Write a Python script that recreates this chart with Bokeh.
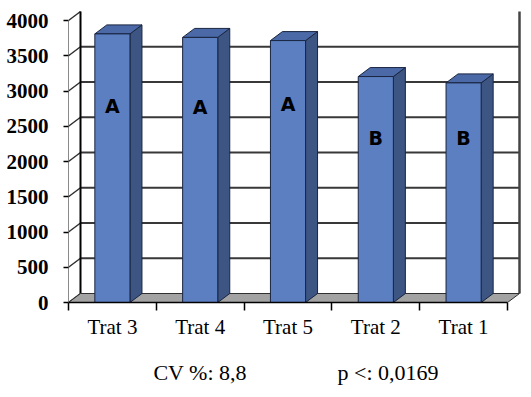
from bokeh.plotting import figure
from bokeh.models import FixedTicker, Range1d, LinearAxis
from bokeh.core.properties import value
from bokeh.embed import file_html
from bokeh.resources import INLINE

# ---- data ----
categories = ["Trat 3", "Trat 4", "Trat 5", "Trat 2", "Trat 1"]
yields = [3810, 3760, 3715, 3205, 3115]
groups = ["A", "A", "A", "B", "B"]
y_ticks = [0, 500, 1000, 1500, 2000, 2500, 3000, 3500, 4000]
note_cv = "CV %: 8,8"
note_p = "p <: 0,0169"

# ---- geometry / style constants ----
PX_Y = 4000 / 282.0          # value units per pixel
PX_X = 1 / 87.8              # category units per pixel
DX = 12 * PX_X               # depth offset (x)
DY = 9 * PX_Y                # depth offset (y)
HALF = 0.2                   # half bar width
n = len(categories)
centers = [i + 0.5 for i in range(n)]
label_y = [2790, 2780, 2820, 2330, 2330]

p = figure(width=528, height=395, output_backend="svg", toolbar_location=None,
           x_range=Range1d(0, 454 * PX_X), y_range=Range1d(0, 294 * PX_Y),
           min_border_left=68, min_border_right=6, min_border_top=8,
           min_border_bottom=93)
p.outline_line_color = None
p.xgrid.visible = False
p.ygrid.visible = False
p.background_fill_color = "white"
p.border_fill_color = "white"

# back wall gridlines
top = y_ticks[-1]
for v in y_ticks[1:-1]:
    p.line([DX, n + DX], [v + DY, v + DY], line_color="#383838", line_width=2)
# side-wall slants
for v in y_ticks:
    p.line([0, DX], [v, v + DY], line_color="#303030", line_width=1.5)
# left back corner & right wall edge
p.line([DX, DX], [DY, top + DY], line_color="black", line_width=2)
p.line([n + DX, n + DX], [DY, top + DY], line_color="#444444", line_width=2.5)

# floor
p.patch([0, n, n + DX, DX], [0, 0, DY, DY], fill_color="#a3a3a3",
        line_color="#303030", line_width=1)

# bars
for c, v in zip(centers, yields):
    p.patch([c + HALF, c + HALF + DX, c + HALF + DX, c + HALF],
            [0, DY, v + DY, v], fill_color="#3d5583", line_color="#1a2540",
            line_width=1)
    p.patch([c - HALF, c + HALF, c + HALF + DX, c - HALF + DX],
            [v, v, v + DY, v + DY], fill_color="#4a69a6", line_color="#1a2540",
            line_width=1)
p.quad(left=[c - HALF for c in centers], right=[c + HALF for c in centers],
       bottom=0, top=yields, fill_color="#5b7fc0", line_color="#1a2540",
       line_width=1)

p.text(x=centers, y=label_y, text=groups, text_font=value("DejaVu Sans"),
       text_font_style="bold", text_font_size="19px", text_color="black",
       text_align="center", text_baseline="middle")

# y axis
ya = p.yaxis[0]
ya.ticker = FixedTicker(ticks=y_ticks)
ya.bounds = (0, top)
ya.axis_line_color = "#8a8a8a"
ya.axis_line_width = 1
ya.major_tick_in = 0
ya.major_tick_out = 5
ya.major_tick_line_color = "black"
ya.major_tick_line_width = 1.5
ya.minor_tick_line_color = None
ya.major_label_standoff = 15
ya.major_label_text_font = "Liberation Serif"
ya.major_label_text_font_style = "bold"
ya.major_label_text_font_size = "21px"
ya.major_label_text_color = "black"

# x axis
xa = p.xaxis[0]
xa.ticker = FixedTicker(ticks=centers, minor_ticks=list(range(n + 1)))
xa.major_label_overrides = {c: name for c, name in zip(centers, categories)}
xa.bounds = (0, n)
xa.axis_line_color = "black"
xa.axis_line_width = 1.5
xa.major_tick_in = 0
xa.major_tick_out = 0
xa.minor_tick_in = 0
xa.minor_tick_out = 8
xa.minor_tick_line_color = "black"
xa.minor_tick_line_width = 1.5
xa.major_label_standoff = 4
xa.major_label_text_font = "Liberation Serif"
xa.major_label_text_font_size = "21px"
xa.major_label_text_color = "black"

# statistics note as a second, line-less axis below
note_pos = [1.5, 3.64]
na = LinearAxis(ticker=FixedTicker(ticks=note_pos),
                major_label_overrides={note_pos[0]: note_cv, note_pos[1]: note_p},
                axis_line_color=None, major_tick_line_color=None,
                minor_tick_line_color=None, major_label_standoff=12,
                major_label_text_font="Liberation Serif",
                major_label_text_font_size="22px",
                major_label_text_color="black")
p.add_layout(na, "below")

open("out.html", "w").write(file_html(p, INLINE))
